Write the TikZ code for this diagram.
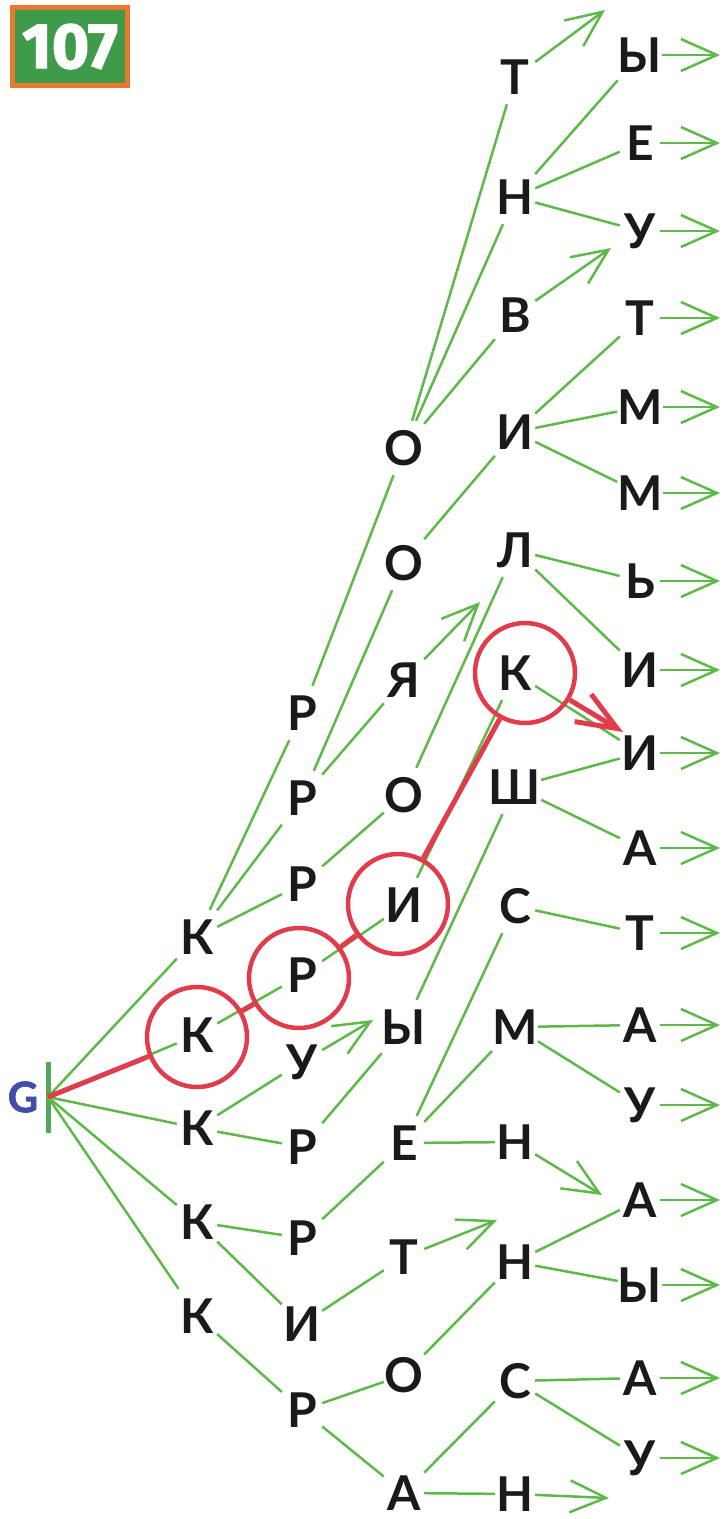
\documentclass[tikz,border=0pt]{standalone}
\usepackage{fontspec}
\setmainfont{Lato}
\newfontfamily\badgefont{Fira Sans}[BoldFeatures={FakeBold=2}]
\newfontfamily\gfont{Lato}[BoldFeatures={FakeBold=1.5}]
\usetikzlibrary{arrows.meta}
\definecolor{lgreen}{HTML}{5DB948}
\definecolor{lred}{HTML}{E03C4B}
\definecolor{gblue}{HTML}{3F4FA8}
\definecolor{borange}{HTML}{E8792E}
\definecolor{bgreen}{HTML}{3E9B4A}
\definecolor{ink}{HTML}{1A1A1A}
\begin{document}
\begin{tikzpicture}[x=1pt,y=-1pt,
  lt/.style={inner sep=0pt, minimum width=40pt, minimum height=54pt, font=\fontsize{48}{48}\selectfont\bfseries, text=ink},
  gl/.style={draw=lgreen, line width=2.5pt},
  ga/.style={gl, -{Straight Barb[length=36pt,width=32pt]}},
  rl/.style={draw=lred, line width=5pt},
  ra/.style={rl, -{Straight Barb[length=40pt,width=32pt]}},
  rc/.style={draw=lred, line width=4.5pt, circle, minimum size=100pt, inner sep=0pt},
]
\useasboundingbox (0,0) rectangle (724,1519);

% badge
\node[draw=borange, line width=5pt, fill=bgreen, minimum width=115pt, minimum height=78pt, inner sep=0pt,
      text=white, font=\badgefont\bfseries\fontsize{64}{64}\selectfont] (badge) at (70,46.5) {107};

% G and bar
\node[text=gblue, font=\gfont\bfseries\fontsize{42}{42}\selectfont, inner sep=0pt] (G) at (23,1097) {G};
\coordinate (gO) at (48,1097);
\coordinate (barT) at (48,1062);
\coordinate (barB) at (48,1133);
\draw[draw=lgreen!90!blue, line width=5pt] (barT) -- (barB);

% column 1
\node[lt] (k1) at (197,937) {К};
\node[lt] (k2) at (197,1035) {К};
\node[lt] (k3) at (197,1128) {К};
\node[lt] (k4) at (197,1222) {К};
\node[lt] (k5) at (197,1316) {К};
% column 2
\node[lt] (p1) at (302,713) {Р};
\node[lt] (p2) at (302,798) {Р};
\node[lt] (p3) at (302,884) {Р};
\node[lt] (p4) at (302,975) {Р};
\node[lt] (u2) at (302,1062) {У};
\node[lt] (p5) at (302,1147) {Р};
\node[lt] (p6) at (302,1238) {Р};
\node[lt] (i2) at (302,1324) {И};
\node[lt] (p7) at (302,1410) {Р};
% column 3
\node[lt] (o1) at (404,448) {О};
\node[lt] (o2) at (404,563) {О};
\node[lt] (ya) at (404,680) {Я};
\node[lt] (o3) at (404,795) {О};
\node[lt] (i3) at (404,905) {И};
\node[lt] (y3) at (404,1027) {Ы};
\node[lt] (e3) at (404,1143) {Е};
\node[lt] (t3) at (404,1257) {Т};
\node[lt] (o4) at (404,1375) {О};
\node[lt] (a3) at (404,1493) {А};
% column 4
\node[lt] (t4) at (515,77) {Т};
\node[lt] (n4a) at (515,197) {Н};
\node[lt] (v4) at (515,315) {В};
\node[lt] (i4) at (515,432) {И};
\node[lt] (l4) at (515,550) {Л};
\node[lt] (k4b) at (515,673) {К};
\node[lt] (sh4) at (515,787) {Ш};
\node[lt] (s4a) at (515,906) {С};
\node[lt] (m4) at (515,1027) {М};
\node[lt] (n4b) at (515,1142) {Н};
\node[lt] (n4c) at (515,1262) {Н};
\node[lt] (s4b) at (515,1381) {С};
\node[lt] (n4d) at (515,1494) {Н};
% column 5
\node[lt] (r1) at (640,55) {Ы};
\node[lt] (r2) at (640,143) {Е};
\node[lt] (r3) at (640,231) {У};
\node[lt] (r4) at (640,318) {Т};
\node[lt] (r5) at (640,407) {М};
\node[lt] (r6) at (640,493) {М};
\node[lt] (r7) at (640,581) {Ь};
\node[lt] (r8) at (640,670) {И};
\node[lt] (r9) at (640,753) {И};
\node[lt] (r10) at (640,848) {А};
\node[lt] (r11) at (640,933) {Т};
\node[lt] (r12) at (640,1025) {А};
\node[lt] (r13) at (640,1105) {У};
\node[lt] (r14) at (640,1200) {А};
\node[lt] (r15) at (640,1285) {Ы};
\node[lt] (r16) at (640,1378) {А};
\node[lt] (r17) at (640,1458) {У};

% free arrow ends
\coordinate (tT) at (605,10);
\coordinate (tV) at (611,248);
\coordinate (tYa) at (480,602);
\coordinate (tU) at (373,1020);
\coordinate (tNb) at (602,1195);
\coordinate (tT3) at (497,1220);
\coordinate (tNd) at (609,1498);
\coordinate (tRed) at (623,732);
\foreach \i/\y in {1/55,2/143,3/231,4/318,5/407,6/493,7/581,8/670,9/753,10/848,11/933,12/1025,13/1105,14/1200,15/1285,16/1378,17/1458}
  \coordinate (endpt\i) at (720,\y);

% green connectors
\foreach \b in {k1,k2,k3,k4,k5} \draw[gl] (gO) -- (\b);
\foreach \a/\b in {k1/p1,k1/p2,k1/p3,p1/o1,o1/t4,o1/n4a,o1/v4,n4a/r1,n4a/r2,n4a/r3,
  p2/o2,p2/ya,o2/i4,i4/r4,i4/r5,i4/r6,p3/o3,o3/l4,l4/r7,l4/r8,
  k2/p4,p4/i3,i3/k4b,k4b/r9,k3/u2,k3/p5,p5/y3,y3/sh4,sh4/r9,sh4/r10,
  k4/p6,k4/i2,p6/e3,e3/s4a,e3/m4,e3/n4b,s4a/r11,m4/r12,m4/r13,i2/t3,
  k5/p7,p7/o4,p7/a3,o4/n4c,n4c/r14,n4c/r15,a3/s4b,a3/n4d,s4b/r16,s4b/r17}
  \draw[gl] (\a) -- (\b);

% green open arrows
\draw[ga] (t4) -- (tT);
\draw[ga] (v4) -- (tV);
\draw[ga] (ya) -- (tYa);
\draw[ga] (u2) -- (tU);
\draw[ga] (n4b) -- (tNb);
\draw[ga] (t3) -- (tT3);
\draw[ga] (n4d) -- (tNd);
\foreach \i in {1,...,17} \draw[ga] (r\i.east) -- (endpt\i);

% red path
\node[rc] (cK2) at (197,1037) {};
\node[rc] (cP4) at (299,978) {};
\node[rc] (cI3) at (398,904) {};
\node[rc] (cK4) at (525,673) {};
\draw[rl] (gO) -- (cK2);
\draw[rl] (cK2) -- (cP4);
\draw[rl] (cP4) -- (cI3);
\draw[rl] (cI3) -- (cK4);
\draw[ra] (cK4) -- (tRed);
\end{tikzpicture}
\end{document}
